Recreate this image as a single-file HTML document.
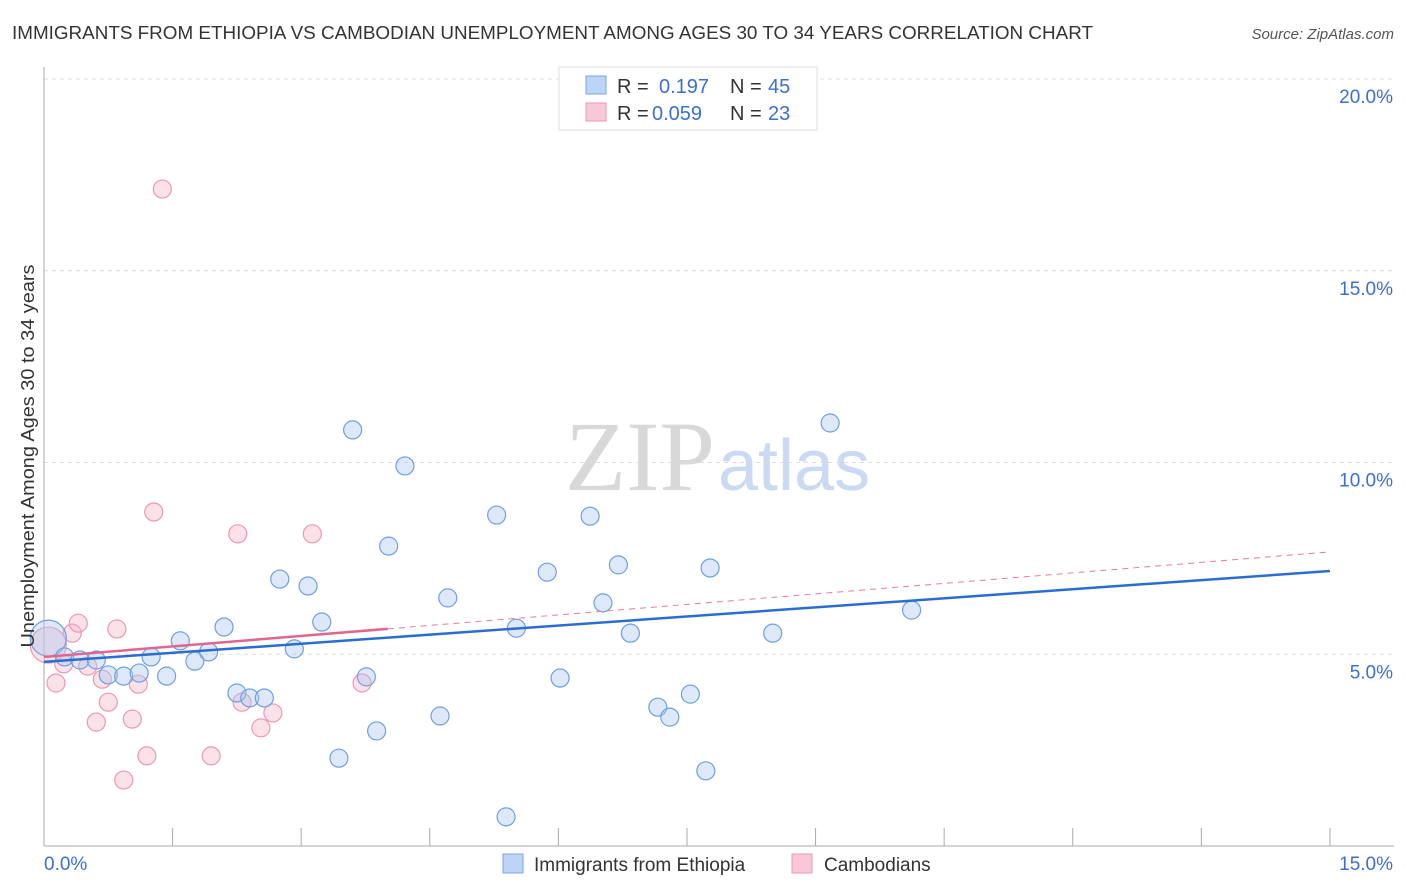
<!DOCTYPE html>
<html><head><meta charset="utf-8"><style>
body{margin:0;background:#fff;font-family:"Liberation Sans",sans-serif;}
svg{display:block}
</style></head><body>
<svg width="1406" height="892" id="chart">
<text x="12" y="39" font-size="18" textLength="1081" lengthAdjust="spacingAndGlyphs" fill="#333">IMMIGRANTS FROM ETHIOPIA VS CAMBODIAN UNEMPLOYMENT AMONG AGES 30 TO 34 YEARS CORRELATION CHART</text>
<text x="1394" y="39" font-size="15" fill="#555" font-style="italic" text-anchor="end">Source: ZipAtlas.com</text>
<text x="715" y="490" font-size="100" fill="#d8d8d8" font-family="Liberation Serif,serif" text-anchor="end">ZIP</text>
<text x="718" y="490" font-size="72" fill="#c9daf2">atlas</text>
<g id="grid"></g>
<g id="marks"></g>
<text transform="translate(34,456) rotate(-90)" font-size="18" textLength="383" lengthAdjust="spacingAndGlyphs" fill="#333" text-anchor="middle">Unemployment Among Ages 30 to 34 years</text>
<g>
<rect x="559" y="67" width="258" height="63" fill="#fff" stroke="#ddd"/>
<rect x="586" y="76" width="20" height="18" fill="#bcd4f6" stroke="#7aa6e6"/>
<rect x="586" y="103" width="20" height="18" fill="#f9c8d6" stroke="#ec98b1"/>
<text y="93" font-size="20" fill="#333"><tspan x="617">R =</tspan><tspan x="659" fill="#3b6fd4">0.197</tspan><tspan x="730">N =</tspan><tspan x="768" fill="#3b6fd4">45</tspan></text>
<text y="120" font-size="20" fill="#333"><tspan x="617">R =</tspan><tspan x="652" fill="#3b6fd4">0.059</tspan><tspan x="730">N =</tspan><tspan x="768" fill="#3b6fd4">23</tspan></text>
</g>
<g>
<rect x="503" y="854" width="20" height="19" fill="#bcd4f6" stroke="#7aa6e6"/>
<text x="534" y="871" font-size="19" fill="#333">Immigrants from Ethiopia</text>
<rect x="792" y="854" width="20" height="19" fill="#f9c8d6" stroke="#ec98b1"/>
<text x="824" y="871" font-size="19" fill="#333">Cambodians</text>
</g>
</svg>
<script>
const blueX=[0.05,0.24,0.42,0.61,0.75,0.93,1.11,1.25,1.43,1.59,1.76,1.92,2.10,2.25,2.40,2.57,2.75,2.92,3.08,3.24,3.60,3.76,3.88,3.44,4.02,4.21,4.62,4.71,5.28,5.51,5.87,6.02,6.37,6.52,6.70,6.84,7.16,7.30,7.54,7.72,7.77,8.50,9.17,10.12,5.39];
const blueY=[5.42,4.93,4.85,4.85,4.46,4.43,4.51,4.93,4.43,5.35,4.82,5.06,5.71,3.99,3.86,3.86,6.96,5.14,6.78,5.84,10.85,4.41,3.00,2.29,7.82,9.91,3.39,6.47,8.63,5.68,7.14,4.38,8.60,6.34,7.33,5.55,3.62,3.36,3.96,1.96,7.25,5.55,11.03,6.15,0.76];
const pinkX=[0.05,0.14,0.23,0.33,0.40,0.51,0.61,0.68,0.75,0.85,0.93,1.03,1.10,1.20,1.28,1.38,1.95,2.26,2.31,2.53,2.67,3.13,3.71];
const pinkY=[5.24,4.25,4.75,5.55,5.81,4.69,3.23,4.35,3.75,5.66,1.72,3.31,4.22,2.35,8.71,17.13,2.35,8.14,3.75,3.08,3.47,8.14,4.25];
const yTicks=[5,10,15,20];
const yTickLabels=["5.0%","10.0%","15.0%","20.0%"];
const blueLine=[4.80,7.17];
const pinkLine=[4.93,7.67];
const pinkSolidEnd=4.01;
const X=v=>44+v*85.73, Y=v=>846-v*38.35;
const NS="http://www.w3.org/2000/svg";
function mk(t,a,p){const e=document.createElementNS(NS,t);for(const k in a)e.setAttribute(k,a[k]);p.appendChild(e);return e;}
const g=document.getElementById('grid'), m=document.getElementById('marks');
yTicks.forEach((t,i)=>{
 const l=mk('line',{x1:44,x2:1394,y1:Y(t),y2:Y(t),stroke:'#ddd','stroke-dasharray':'4,4'},g);
 
 
 const tx=mk('text',{x:1393,y:Y(t)+24,'font-size':19,fill:'#3b6fd4','text-anchor':'end'},g);
 tx.textContent=yTickLabels[i];
 
 
});
mk('line',{x1:44,x2:44,y1:67,y2:846,stroke:'#aaa'},g);
mk('line',{x1:44,x2:1394,y1:846,y2:846,stroke:'#aaa'},g);
for(let i=1;i<=10;i++){const l=mk('line',{x1:X(i*1.5),x2:X(i*1.5),y1:828,y2:846,stroke:'#aaa'},g);
 
 }
const x0=mk('text',{x:44,y:870,'font-size':19,fill:'#3b6fd4'},g);x0.textContent='0.0%';


const x1=mk('text',{x:1393,y:870,'font-size':19,fill:'#3b6fd4','text-anchor':'end'},g);x1.textContent='15.0%';


pinkX.forEach((v,i)=>{const c=mk('circle',{cx:X(v),cy:Y(pinkY[i]),r:i==0?18:9,fill:'rgba(246,182,201,0.4)',stroke:'#ec98b1','stroke-width':1.2},m);
 
 });
blueX.forEach((v,i)=>{const c=mk('circle',{cx:X(v),cy:Y(blueY[i]),r:i==0?18:9,fill:'rgba(170,200,240,0.4)',stroke:'#6f9fe0','stroke-width':1.2},m);
 
 });
const pm=(pinkLine[1]-pinkLine[0])/15;
const pd=mk('line',{x1:X(pinkSolidEnd),y1:Y(pinkLine[0]+pm*pinkSolidEnd),x2:X(15),y2:Y(pinkLine[1]),stroke:'#e8799b','stroke-width':1,'stroke-dasharray':'6,5'},m);


const bl=mk('line',{x1:X(0),y1:Y(blueLine[0]),x2:X(15),y2:Y(blueLine[1]),stroke:'#2a6dd2','stroke-width':2.5},m);


const ps=mk('line',{x1:X(0),y1:Y(pinkLine[0]),x2:X(pinkSolidEnd),y2:Y(pinkLine[0]+pm*pinkSolidEnd),stroke:'#e06690','stroke-width':2.5},m);


</script>
</body></html>
